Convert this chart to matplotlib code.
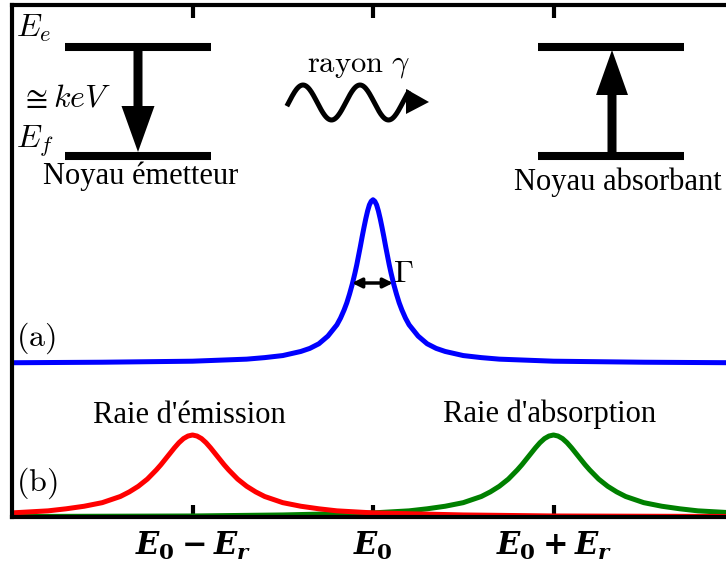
import numpy as np
import matplotlib
matplotlib.use('Agg')
import matplotlib.pyplot as plt
from matplotlib.patches import FancyArrow, Polygon
from matplotlib.font_manager import FontProperties

plt.rcParams['mathtext.fontset'] = 'cm'
# bold italic set, used only by the tick labels
plt.rcParams['mathtext.it'] = 'DejaVu Serif:italic:bold'
plt.rcParams['mathtext.rm'] = 'DejaVu Serif:bold'
plt.rcParams['mathtext.bf'] = 'DejaVu Serif:bold'

# energy axis in units of E_r, centred on E_0
tick_pos = [-1, 0, 1]
tick_labels = [r'$E_0 - E_r$', r'$E_0$', r'$E_0 + E_r$']

# (a) natural line (blue)
x_a = [-2, -1.5, -1, -0.7, -0.6, -0.5, -0.4, -0.35, -0.3, -0.25, -0.2, -0.18, -0.16, -0.145, -0.13,
       -0.115, -0.1, -0.09, -0.08, -0.07, -0.06, -0.05, -0.04, -0.03, -0.02, -0.01, 0,
       0.01, 0.02, 0.03, 0.04, 0.05, 0.06, 0.07, 0.08, 0.09, 0.1, 0.115, 0.13, 0.145, 0.16, 0.18,
       0.2, 0.25, 0.3, 0.35, 0.4, 0.5, 0.6, 0.7, 1, 1.5, 2]
y_a = [0.301, 0.302, 0.304, 0.308, 0.311, 0.315, 0.323, 0.329, 0.338, 0.353, 0.375, 0.388, 0.404, 0.418, 0.435,
       0.454, 0.476, 0.492, 0.510, 0.528, 0.547, 0.565, 0.582, 0.597, 0.609, 0.616, 0.619,
       0.616, 0.609, 0.597, 0.582, 0.565, 0.547, 0.528, 0.510, 0.492, 0.476, 0.454, 0.435, 0.418, 0.404, 0.388,
       0.375, 0.353, 0.338, 0.329, 0.323, 0.315, 0.311, 0.308, 0.304, 0.302, 0.301]

# (b) emission line (red) and absorption line (green)
x_em = [-2, -1.8, -1.7, -1.6, -1.5, -1.45, -1.4, -1.35, -1.3, -1.25, -1.2, -1.175, -1.15, -1.125, -1.1,
        -1.075, -1.05, -1.025, -1,
        -0.975, -0.95, -0.925, -0.9, -0.875, -0.85, -0.825, -0.8, -0.75, -0.7, -0.65, -0.6, -0.55, -0.5,
        -0.4, -0.3, -0.2, 0, 0.5, 1, 2]
y_em = [0.008, 0.012, 0.016, 0.021, 0.028, 0.034, 0.040, 0.049, 0.060, 0.074, 0.092, 0.102, 0.113, 0.124, 0.135,
        0.145, 0.153, 0.158, 0.160,
        0.158, 0.153, 0.145, 0.135, 0.124, 0.113, 0.102, 0.092, 0.074, 0.060, 0.049, 0.040, 0.034, 0.028,
        0.021, 0.016, 0.012, 0.008, 0.004, 0.002, 0.001]
x_abs = [-2, -1, -0.5, 0, 0.2, 0.3, 0.4, 0.5, 0.55, 0.6, 0.65, 0.7, 0.75, 0.8, 0.825, 0.85, 0.875, 0.9,
         0.925, 0.95, 0.975, 1,
         1.025, 1.05, 1.075, 1.1, 1.125, 1.15, 1.175, 1.2, 1.25, 1.3, 1.35, 1.4, 1.45, 1.5, 1.6, 1.7, 1.8, 2]
y_abs = [0.001, 0.002, 0.004, 0.008, 0.012, 0.016, 0.021, 0.028, 0.034, 0.040, 0.049, 0.060, 0.074, 0.092,
         0.102, 0.113, 0.124, 0.135, 0.145, 0.153, 0.158, 0.160,
         0.158, 0.153, 0.145, 0.135, 0.124, 0.113, 0.102, 0.092, 0.074, 0.060, 0.049, 0.040, 0.034, 0.028,
         0.021, 0.016, 0.012, 0.008]

W, H = 726, 572
fig = plt.figure(figsize=(W / 100, H / 100), dpi=100)
ax = fig.add_axes([12 / W, 55 / H, 722 / W, 512.5 / H])

ax.plot(x_a, y_a, color='blue', lw=3.6)
ax.plot(x_abs, y_abs, color='green', lw=3.6)
ax.plot(x_em, y_em, color='red', lw=3.6)

ax.set_xlim(-2, 2)
ax.set_ylim(0, 1)
ax.spines['right'].set_visible(False)
for s in ['left', 'top', 'bottom']:
    ax.spines[s].set_linewidth(3)
ax.set_xticks(tick_pos)
tick_fp = FontProperties(size=22, math_fontfamily='custom')
ax.set_xticklabels(tick_labels, fontproperties=tick_fp)
ax.set_yticks([])
ax.tick_params(axis='x', direction='in', length=9, width=3, top=True, pad=9)

# overlay in pixel coords for the level diagrams and labels
ov = fig.add_axes([0, 0, 1, 1])
ov.set_xlim(0, W)
ov.set_ylim(H, 0)
ov.axis('off')
ov.patch.set_alpha(0)

serif = 'Liberation Serif'
# emitter
for yy in [47, 156]:
    ov.plot([65, 211], [yy, yy], color='black', lw=5.8, solid_capstyle='butt')
ov.add_patch(FancyArrow(138, 47, 0, 105, width=9, head_width=33, head_length=46,
                        length_includes_head=True, color='black', lw=0))
# absorber
for yy in [47, 156]:
    ov.plot([538, 684], [yy, yy], color='black', lw=5.8, solid_capstyle='butt')
ov.add_patch(FancyArrow(612, 156, 0, -106, width=9, head_width=32, head_length=45,
                        length_includes_head=True, color='black', lw=0))

ov.text(16, 37, r'$E_e$', fontsize=23, ha='left', va='baseline')
ov.text(20, 107, r'$\cong keV$', fontsize=23, ha='left', va='baseline')
ov.text(16, 148, r'$E_f$', fontsize=23, ha='left', va='baseline')
ov.text(141, 184, 'Noyau émetteur', family=serif, fontsize=22, ha='center', va='baseline')
ov.text(618, 190, 'Noyau absorbant', family=serif, fontsize=22, ha='center', va='baseline')

# gamma ray wave
wx = np.linspace(288, 408, 200)
ov.plot(wx, 102.5 - 17.5 * np.cos(2 * np.pi * (wx - 303) / 57), color='black', lw=3.6)
ov.add_patch(Polygon([(406, 89), (406, 114), (429, 102)], closed=True, color='black', lw=0))
ov.text(359, 72, r'$\mathrm{rayon}\ \gamma$', fontsize=22, ha='center', va='baseline')

# width marker
ov.annotate('', xy=(352, 283), xytext=(393, 283),
            arrowprops=dict(arrowstyle='<|-|>', color='black', lw=2.5, mutation_scale=14,
                            shrinkA=0, shrinkB=0))
ov.text(393, 282, r'$\Gamma$', fontsize=23, ha='left', va='baseline')

ov.text(16, 346, r'$\mathrm{(a)}$', fontsize=23, ha='left', va='baseline')
ov.text(16, 491, r'$\mathrm{(b)}$', fontsize=23, ha='left', va='baseline')
ov.text(189, 423, "Raie d'émission", family=serif, fontsize=22, ha='center', va='baseline')
ov.text(550, 422, "Raie d'absorption", family=serif, fontsize=22, ha='center', va='baseline')

fig.savefig('out.png', dpi=100)
